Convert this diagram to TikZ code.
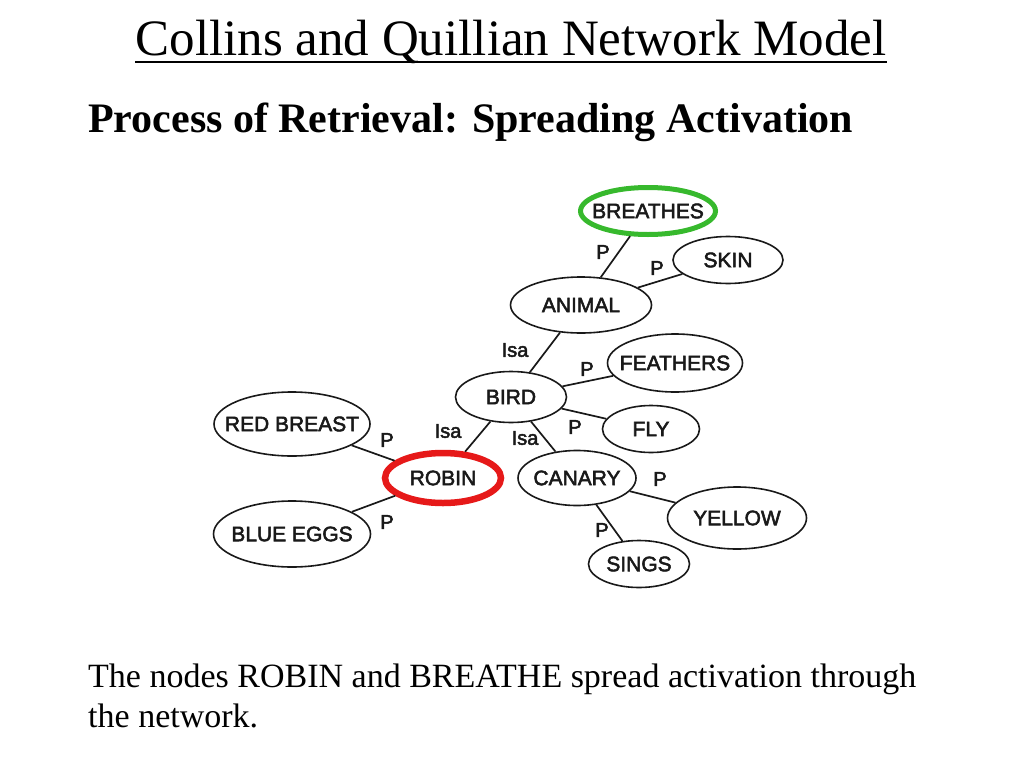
\documentclass[tikz,border=0pt]{standalone}
\usepackage{fontspec}
\setmainfont{Liberation Serif}
\setsansfont{Liberation Sans}
\newfontfamily\scanfont{Liberation Sans}[FakeBold=2.5]
\usetikzlibrary{shapes.geometric}
\definecolor{hitgreen}{RGB}{55,185,45}
\definecolor{hitred}{RGB}{230,25,25}
\definecolor{ink}{RGB}{25,25,25}
\newcommand{\word}[1]{\makebox[0pt]{#1}}
\tikzset{concept/.style = {draw = ink, ellipse, line width = 1.6, inner sep = 0, text = ink,
                           font = \scanfont\fontsize{21}{21}\selectfont}}
\tikzset{rel/.style = {inner sep = 0, text = ink, font = \scanfont\fontsize{20}{20}\selectfont}}
\tikzset{link/.style = {draw = ink, line width = 1.7}}

\begin{document}
\begin{tikzpicture}[x = 1pt, y = -1pt]
      \useasboundingbox (0, 0) rectangle (1024, 768);

      \node [anchor = base, inner sep = 0, font = \fontsize{51}{51}\selectfont] (title) at (511, 56) {Collins and Quillian Network Model};
      \draw [line width = 2] ([yshift = -6pt] title.base west) -- ([yshift = -6pt] title.base east);
      \node [anchor = base west, inner sep = 0, font = \bfseries\fontsize{42}{42}\selectfont] (sub) at (88, 132) {Process of Retrieval: Spreading Activation};

      \node [concept, minimum width = 135, minimum height = 47, draw = hitgreen, line width = 5] (breathes) at (648, 211) {\word{BREATHES}};
      \node [concept, minimum width = 110, minimum height = 47] (skin) at (728, 260) {\word{SKIN}};
      \node [concept, minimum width = 141, minimum height = 56] (animal) at (581, 305) {\word{ANIMAL}};
      \node [concept, minimum width = 135, minimum height = 58] (feathers) at (675, 363) {\word{FEATHERS}};
      \node [concept, minimum width = 111, minimum height = 51] (bird) at (511, 397) {\word{BIRD}};
      \node [concept, minimum width = 156, minimum height = 64] (redbreast) at (292, 424) {\word{RED BREAST}};
      \node [concept, minimum width = 97, minimum height = 47] (fly) at (651, 429) {\word{FLY}};
      \node [concept, minimum width = 116, minimum height = 50, draw = hitred, line width = 6.5] (robin) at (443, 478) {\word{ROBIN}};
      \node [concept, minimum width = 118, minimum height = 55] (canary) at (577, 478) {\word{CANARY}};
      \node [concept, minimum width = 139, minimum height = 62] (yellow) at (737, 518) {\word{YELLOW}};
      \node [concept, minimum width = 157, minimum height = 66] (blueeggs) at (292, 534) {\word{BLUE EGGS}};
      \node [concept, minimum width = 101, minimum height = 47] (sings) at (639, 564) {\word{SINGS}};

      \draw [link] (breathes) -- (animal);
      \draw [link] (animal) -- (skin);
      \draw [link] (animal) -- (bird);
      \draw [link] (bird) -- (feathers);
      \draw [link] (bird) -- (fly);
      \draw [link] (bird) -- (robin);
      \draw [link] (bird) -- (canary);
      \draw [link] (redbreast) -- (robin);
      \draw [link] (robin) -- (blueeggs);
      \draw [link] (canary) -- (yellow);
      \draw [link] (canary) -- (sings);

      \node [rel] (p-breathes) at (603, 252) {P};
      \node [rel] (p-skin) at (657, 268) {P};
      \node [rel] (isa-animal) at (515, 350) {Isa};
      \node [rel] (p-feathers) at (587, 369) {P};
      \node [rel] (p-fly) at (575, 427) {P};
      \node [rel] (isa-robin) at (448, 431) {Isa};
      \node [rel] (isa-canary) at (525, 438) {Isa};
      \node [rel] (p-redbreast) at (387, 440) {P};
      \node [rel] (p-blueeggs) at (387, 522) {P};
      \node [rel] (p-yellow) at (660, 479) {P};
      \node [rel] (p-sings) at (602, 530) {P};

      \node [anchor = base west, inner sep = 0, font = \fontsize{34}{34}\selectfont] (note) at (88, 687) {The nodes ROBIN and BREATHE spread activation through};
      \node [anchor = base west, inner sep = 0, font = \fontsize{34}{34}\selectfont] (note-end) at (88, 727) {the network.};
    \end{tikzpicture}
\end{document}
